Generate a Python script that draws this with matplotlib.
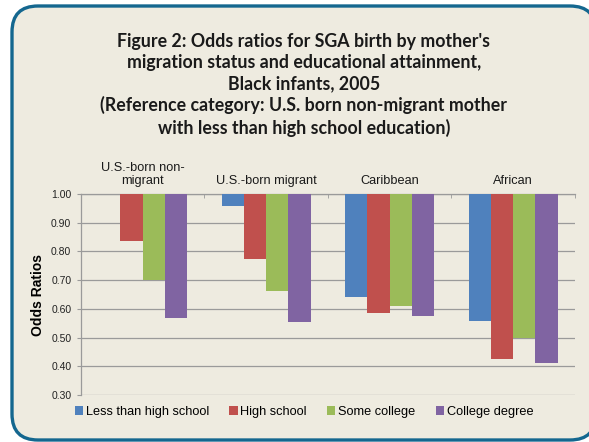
import matplotlib
matplotlib.use("Agg")
import matplotlib.pyplot as plt
import numpy as np
from matplotlib.patches import FancyBboxPatch

groups = ["U.S.-born non-\nmigrant", "U.S.-born migrant", "Caribbean", "African"]
series = ["Less than high school", "High school", "Some college", "College degree"]
less_than_hs = [1.00, 0.960, 0.641, 0.557]
high_school = [0.835, 0.773, 0.587, 0.426]
some_college = [0.700, 0.661, 0.610, 0.498]
college_degree = [0.567, 0.556, 0.575, 0.413]
colors = ["#4F81BD", "#C0504D", "#9BBB59", "#8064A2"]
yticks = [0.30, 0.40, 0.50, 0.60, 0.70, 0.80, 0.90, 1.00]

title = ("Figure 2: Odds ratios for SGA birth by mother's\n"
         "migration status and educational attainment,\n"
         "Black infants, 2005\n"
         "(Reference category: U.S. born non-migrant mother\n"
         "with less than high school education)")

plt.rcParams["font.family"] = ["Liberation Sans", "DejaVu Sans"]

fig = plt.figure(figsize=(5.89, 4.42), dpi=100)
fig.patch.set_facecolor("white")

# rounded panel, drawn in pixel coordinates, behind everything
box = FancyBboxPatch((12, 2), 584, 434, boxstyle="round,pad=0,rounding_size=26",
                     transform=None, facecolor="#EEEBE0", edgecolor="#14678F",
                     linewidth=2.4, zorder=-10)
fig.patches.append(box)

fig.text(0.516, 0.925, title, ha="center", va="top", fontsize=12.8,
         fontweight="bold", family=["Lato", "DejaVu Sans"], linespacing=1.28,
         color="#1A1A1A")

ax = fig.add_axes([0.1375, 0.106, 0.8385, 0.455])
ax.set_facecolor("none")
ax.set_zorder(1)

x = np.arange(len(groups))
width = 0.18
all_series = [less_than_hs, high_school, some_college, college_degree]
for i, (name, vals) in enumerate(zip(series, all_series)):
    vals = np.array(vals)
    ax.bar(x + (i - 1.5) * width, vals - 1.0, bottom=1.0, width=width,
           color=colors[i], label=name, zorder=3)

ax.set_xlim(-0.5, len(groups) - 0.5)
ax.set_ylim(0.30, 1.00)
ax.set_yticks(yticks)
ax.set_yticklabels([f"{v:.2f}" for v in yticks], fontsize=7.5, color="#222222")
ax.yaxis.grid(True, color="#9A9A9A", linewidth=0.9, zorder=0)
ax.set_axisbelow(True)

ax.xaxis.tick_top()
ax.set_xticks(x)
ax.set_xticklabels(groups, fontsize=9.2, color="#1A1A1A", linespacing=1.1)
ax.tick_params(axis="x", which="major", length=0, pad=5)
ax.set_xticks(np.arange(len(groups) + 1) - 0.5, minor=True)
ax.tick_params(axis="x", which="minor", length=3, direction="in", color="#9A9A9A",
               top=True, bottom=False)
ax.tick_params(axis="y", length=3, color="#9A9A9A", pad=4)

for side in ["right", "bottom"]:
    ax.spines[side].set_visible(False)
ax.spines["top"].set_color("#9A9A9A")
ax.spines["left"].set_color("#9A9A9A")
ax.spines["top"].set_linewidth(0.9)
ax.spines["left"].set_linewidth(0.9)

ax.set_ylabel("Odds Ratios", fontsize=10, fontweight="bold", labelpad=4)

fig.legend(loc="center", bbox_to_anchor=(0.516, 0.068), ncol=4, frameon=False,
           fontsize=9.2, handlelength=0.65, handleheight=0.65, handletextpad=0.2,
           columnspacing=1.6)

fig.savefig("out.png", dpi=100, facecolor="white")
